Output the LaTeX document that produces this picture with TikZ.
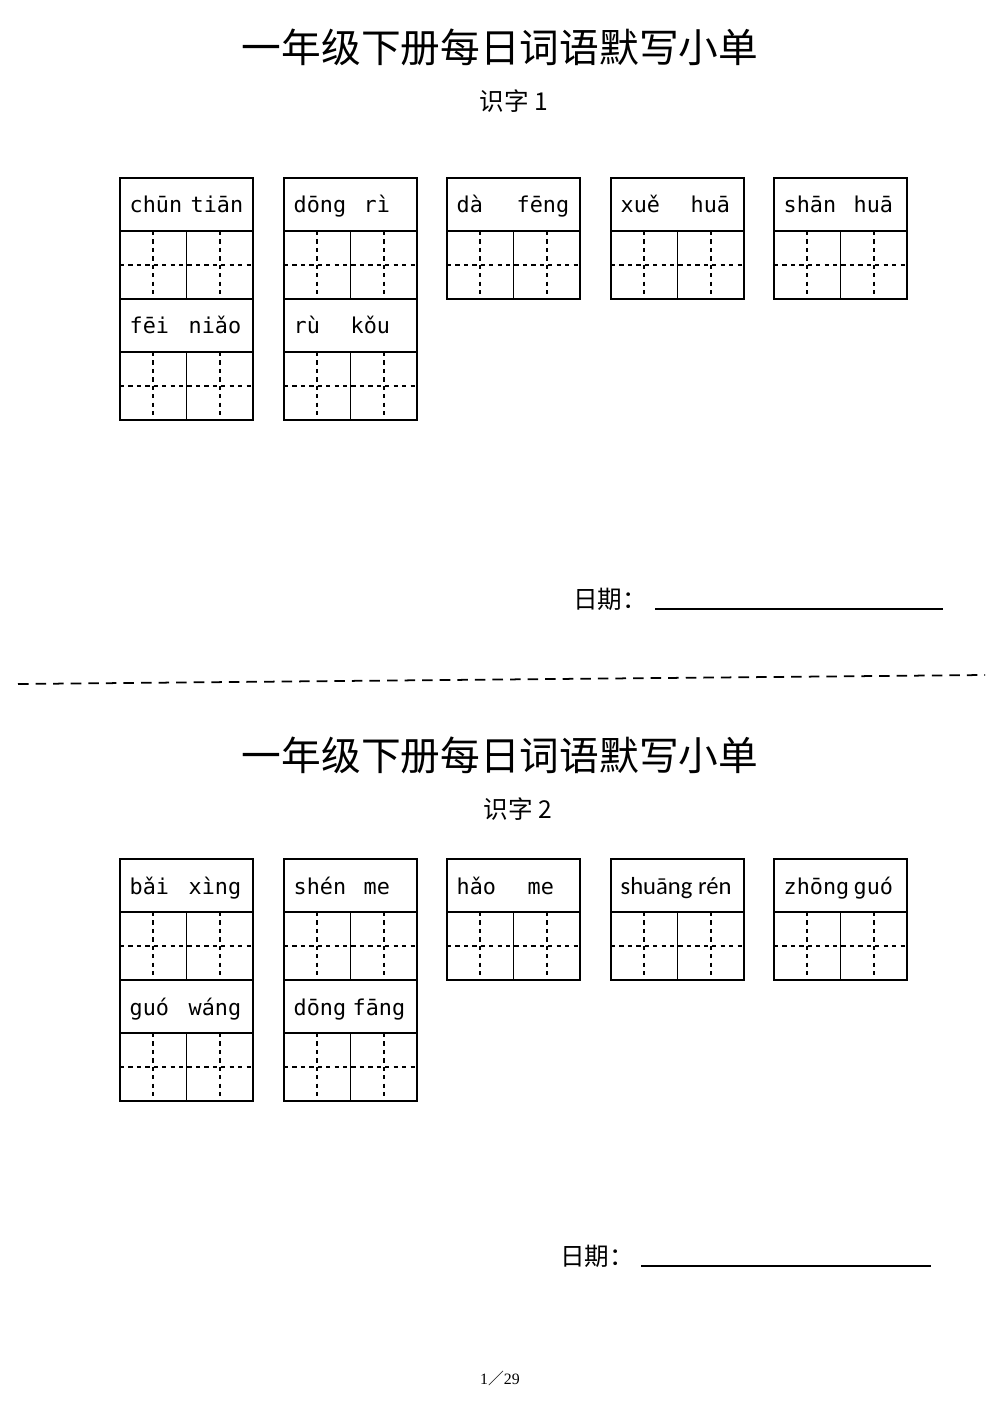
\documentclass[tikz,border=0pt]{standalone}
\usepackage{fontspec}
\setmainfont{Liberation Serif}
\newfontfamily\cjk{Noto Sans CJK SC}
\newfontfamily\pyf{DejaVu Sans Mono}
\newfontfamily\pys{Carlito}
\begin{document}
\begin{tikzpicture}[x=0.1mm,y=-0.1mm,
  grid/.style={line width=0.5pt},
  dsh/.style={dashed,line width=0.4pt,dash pattern=on 1.2pt off 1.2pt},
  py/.style={anchor=base west,font=\pyf\fontsize{6.2}{8}\selectfont,inner sep=0},
  title/.style={font=\cjk\fontsize{11.3}{13}\selectfont},
  sub/.style={font=\cjk\fontsize{7}{9}\selectfont}]
\fill[white] (0,0) rectangle (1000,1414);
\newcommand\cell[2]{% x, y top
  \draw[grid] (#1,#2) rectangle ++(133,121);
  \draw[grid] (#1,#2+53) -- ++(133,0);
  \draw[grid] (#1+66.5,#2+53) -- ++(0,68);
  \draw[dsh] (#1,#2+87) -- ++(133,0);
  \draw[dsh] (#1+33,#2+53) -- ++(0,68);
  \draw[dsh] (#1+100,#2+53) -- ++(0,68);
}
\newcommand\pyw[5]{% x y a offset b
  \node[py] at (#1+9,#2+35) {#3};
  \node[py] at (#1+#4,#2+35) {#5};
}
\foreach \dy/\n/\sx/\dx/\lx/\ly/\le/\ty in {0/1/514/610/655/609/943/47, 681/2/518/597/641/1266/931/755}{
  \node[title] (t\n) at (500,\ty) {一年级下册每日词语默写小单};
  \node[sub] (s\n) at (\sx,\ty+54) {识字 \n};
  \node[sub] (d\n) at (\dx,\ly-10) {日期：};
  \coordinate (la\n) at (\lx,\ly);
  \coordinate (lb\n) at (\le,\ly);
  \draw[line width=0.6pt] (la\n) -- (lb\n);
  \foreach \cx in {120,284,447,611,774}{\cell{\cx}{178+\dy}}
  \cell{120}{299+\dy}
  \cell{284}{299+\dy}
}
\pyw{120}{178}{chūn}{70}{tiān}
\pyw{284}{178}{dōng}{79}{rì}
\pyw{447}{178}{dà}{69}{fēng}
\pyw{611}{178}{xuě}{79}{huā}
\pyw{774}{178}{shān}{79}{huā}
\pyw{120}{299}{fēi}{68}{niǎo}
\pyw{284}{299}{rù}{66}{kǒu}
\pyw{120}{859}{bǎi}{68}{xìng}
\pyw{284}{859}{shén}{79}{me}
\pyw{447}{859}{hǎo}{80}{me}
\node[py,font=\pys\fontsize{7}{9}\selectfont] at (620,894) {shuāng rén};
\pyw{774}{859}{zhōng}{79}{guó}
\pyw{120}{980}{guó}{68}{wáng}
\pyw{284}{980}{dōng}{68}{fāng}
\coordinate (sepa) at (18,684);
\coordinate (sepb) at (985,675);
\draw[dashed,line width=0.5pt,dash pattern=on 3pt off 2pt] (sepa) -- (sepb);
\node[font=\fontsize{4.5}{6}\selectfont] (pg) at (500,1378) {1{\cjk／}29};
\end{tikzpicture}
\end{document}
